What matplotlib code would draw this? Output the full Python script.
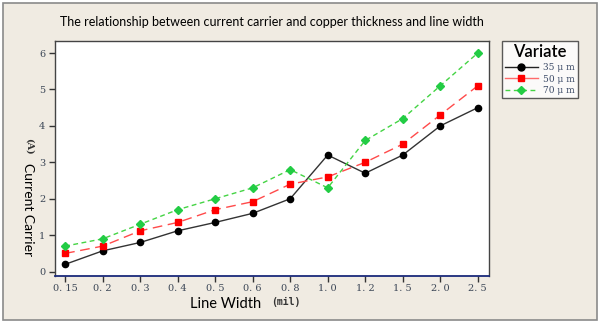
import numpy as np
import matplotlib.pyplot as plt
from matplotlib.patches import Rectangle
from matplotlib.lines import Line2D

# data
line_width = ["0.15", "0.2", "0.3", "0.4", "0.5", "0.6", "0.8", "1.0", "1.2", "1.5", "2.0", "2.5"]
cu_35 = [0.2, 0.57, 0.8, 1.12, 1.35, 1.6, 2.0, 3.2, 2.7, 3.2, 4.0, 4.5]
cu_50 = [0.5, 0.7, 1.12, 1.35, 1.7, 1.92, 2.4, 2.6, 3.0, 3.5, 4.3, 5.1]
cu_70 = [0.7, 0.9, 1.3, 1.7, 2.0, 2.3, 2.8, 2.3, 3.6, 4.2, 5.1, 6.0]
series_labels = ["35 μ m", "50 μ m", "70 μ m"]
y_ticks = [0, 1, 2, 3, 4, 5, 6]

W, H = 600, 324
fig = plt.figure(figsize=(W / 100, H / 100), dpi=100)
fig.patch.set_facecolor("white")

# beige panel behind everything
fig.patches.append(Rectangle((3 / W, 1 - 320 / H), 594 / W, 317 / H,
                             transform=fig.transFigure, facecolor="#f0ebe2",
                             edgecolor="#8a8a8a", linewidth=1.2, zorder=-5))

ax = fig.add_axes([55 / W, 1 - 276 / H, 434 / W, 235 / H])
ax.set_zorder(2)
ax.set_facecolor("white")

x = np.arange(len(line_width))
ax.plot(x, cu_35, color="#333333", lw=1.0, marker="o", ms=4.5,
        mfc="black", mec="black")
ax.plot(x, cu_50, color="#ff4a4a", lw=1.0, ls=(0, (7, 4)), marker="s", ms=4,
        mfc="red", mec="red")
ax.plot(x, cu_70, color="#44d444", lw=1.0, ls=(0, (3.5, 2.5)), marker="D", ms=3.8,
        mfc="#22cc44", mec="#22cc44")

ax.set_xlim(-0.27, 11.3)
ax.set_ylim(-0.12, 6.33)

tick_font = dict(family="DejaVu Serif", size=7, color="#3b4656")
ax.set_xticks(x)
ax.set_xticklabels([s.replace(".", ". ") for s in line_width], **tick_font)
ax.set_yticks(y_ticks)
ax.set_yticklabels([str(v) for v in y_ticks], **tick_font)
ax.tick_params(axis="both", direction="out", length=4, width=1, color="#333333")
ax.tick_params(axis="x", pad=2)
ax.tick_params(axis="y", pad=3)

for side in ["left", "top", "right"]:
    ax.spines[side].set_color("#444444")
    ax.spines[side].set_linewidth(1.0)
ax.spines["bottom"].set_color("#1a2a7a")
ax.spines["bottom"].set_linewidth(1.3)

# title
fig.text(272 / W, 1 - 22 / H,
         "The relationship between current carrier and copper thickness and line width",
         ha="center", va="center", family="Lato", fontsize=9, color="black")

# axis labels
fig.text(226 / W, 1 - 304 / H, "Line Width", ha="center", va="center",
         family="Lato", fontsize=10.5, color="black")
fig.text(286 / W, 1 - 302 / H, "(mil)", ha="center", va="center",
         family="DejaVu Sans Mono", fontsize=7, weight="bold", color="#333333")
fig.text(29 / W, 1 - 146 / H, "(A)", ha="center", va="center", rotation=270,
         family="DejaVu Serif", fontsize=7, weight="bold", color="#333333")
fig.text(28 / W, 1 - 210 / H, "Current Carrier", ha="center", va="center",
         rotation=270, family="Lato", fontsize=10, color="black")

# legend
handles = [
    Line2D([], [], color="#222222", lw=1.0, marker="o", ms=5, mfc="black", mec="black"),
    Line2D([], [], color="#ff6a6a", lw=1.0, ls="-", marker="s", ms=4.5, mfc="red", mec="red"),
    Line2D([], [], color="#44d444", lw=1.0, ls=(0, (3.5, 2.5)), marker="D", ms=4,
           mfc="#22cc44", mec="#22cc44"),
]
leg = fig.legend(handles, series_labels, loc="upper left",
                 bbox_to_anchor=(502 / W, 1 - 41 / H), bbox_transform=fig.transFigure,
                 borderaxespad=0, title="Variate", frameon=True, fancybox=False,
                 borderpad=0.35, handlelength=3.6, handletextpad=0.6, labelspacing=0.3,
                 prop=dict(family="DejaVu Serif", size=6.5))
leg.get_title().set_fontfamily("Lato")
leg.get_title().set_fontsize(12)
leg.get_title().set_fontweight("semibold")
leg.get_frame().set_edgecolor("#333333")
leg.get_frame().set_linewidth(1.0)
for t in leg.get_texts():
    t.set_color("#3b4a66")

fig.savefig("out.png", dpi=100)
